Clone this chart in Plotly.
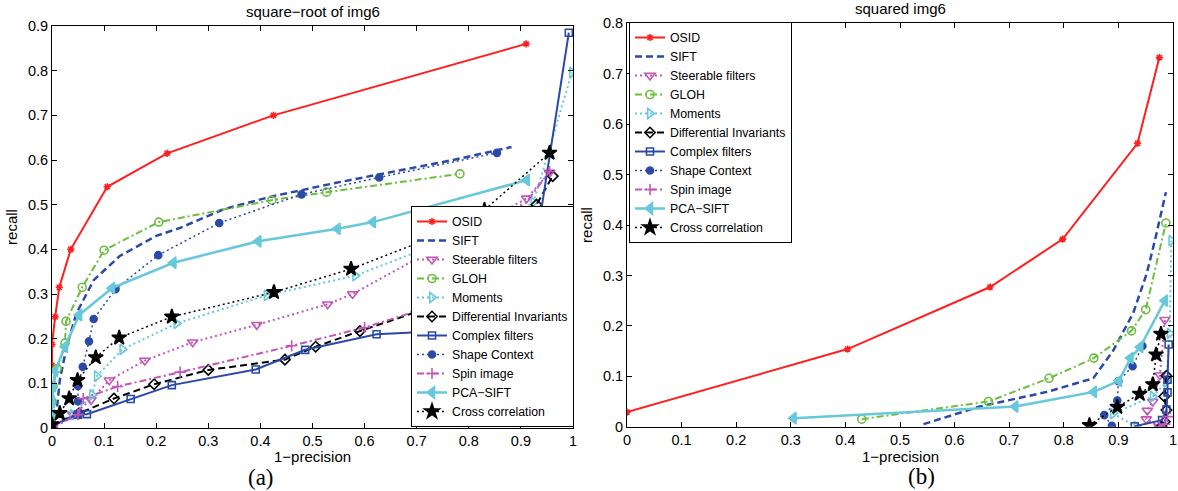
import plotly.graph_objects as go

# ---------------- data ----------------
names = ["OSID", "SIFT", "Steerable filters", "GLOH", "Moments",
         "Differential Invariants", "Complex filters", "Shape Context",
         "Spin image", "PCA−SIFT", "Cross correlation"]

# (a) square-root of img6 : x = 1-precision, y = recall
a_osid_x = [0.0, 0.0, 0.006, 0.014, 0.036, 0.106, 0.221, 0.425, 0.91]
a_osid_y = [0.14, 0.187, 0.249, 0.315, 0.40, 0.54, 0.615, 0.70, 0.86]
a_sift_x = [0.0, 0.01, 0.015, 0.028, 0.047, 0.08, 0.13, 0.2, 0.246, 0.33, 0.424, 0.55, 0.655, 0.77, 0.882]
a_sift_y = [0.0, 0.05, 0.107, 0.182, 0.257, 0.331, 0.385, 0.43, 0.448, 0.49, 0.519, 0.55, 0.574, 0.60, 0.629]
a_steer_x = [0.0, 0.04, 0.075, 0.11, 0.178, 0.27, 0.393, 0.529, 0.577, 0.911, 0.955]
a_steer_y = [0.0, 0.03, 0.063, 0.107, 0.151, 0.192, 0.231, 0.277, 0.30, 0.514, 0.572]
a_gloh_x = [0.0, 0.0, 0.0, 0.002, 0.01, 0.025, 0.027, 0.058, 0.10, 0.205, 0.422, 0.527, 0.783]
a_gloh_y = [0.0, 0.03, 0.059, 0.094, 0.133, 0.19, 0.239, 0.315, 0.398, 0.461, 0.51, 0.528, 0.569]
a_mom_x = [0.0, 0.04, 0.077, 0.086, 0.135, 0.239, 0.412, 0.582, 0.885, 0.924, 0.998]
a_mom_y = [0.005, 0.03, 0.074, 0.116, 0.176, 0.234, 0.297, 0.341, 0.477, 0.505, 0.796]
a_diff_x = [0.0, 0.052, 0.119, 0.196, 0.30, 0.447, 0.506, 0.591, 0.70, 0.85, 0.93, 0.961]
a_diff_y = [0.007, 0.033, 0.066, 0.098, 0.13, 0.153, 0.182, 0.217, 0.26, 0.36, 0.50, 0.564]
a_cplx_x = [0.0, 0.05, 0.067, 0.151, 0.23, 0.391, 0.486, 0.623, 0.80, 0.91, 0.992]
a_cplx_y = [0.005, 0.03, 0.031, 0.065, 0.096, 0.131, 0.175, 0.21, 0.22, 0.27, 0.885]
a_shape_x = [0.003, 0.05, 0.05, 0.05, 0.059, 0.071, 0.08, 0.122, 0.204, 0.321, 0.479, 0.628, 0.854]
a_shape_y = [0.005, 0.033, 0.06, 0.094, 0.137, 0.194, 0.244, 0.311, 0.387, 0.459, 0.523, 0.561, 0.616]
a_spin_x = [0.0, 0.05, 0.06, 0.126, 0.246, 0.46, 0.60, 0.75, 0.85, 0.90, 0.955]
a_spin_y = [0.0, 0.03, 0.066, 0.093, 0.125, 0.184, 0.225, 0.28, 0.38, 0.49, 0.574]
a_pca_x = [0.0, 0.0, 0.0, 0.002, 0.006, 0.025, 0.052, 0.115, 0.233, 0.396, 0.548, 0.616, 0.911]
a_pca_y = [0.005, 0.029, 0.058, 0.093, 0.128, 0.182, 0.253, 0.313, 0.37, 0.418, 0.446, 0.461, 0.555]
a_cross_x = [0.0, 0.015, 0.033, 0.049, 0.084, 0.129, 0.23, 0.426, 0.574, 0.777, 0.83, 0.955]
a_cross_y = [0.008, 0.033, 0.066, 0.107, 0.158, 0.202, 0.249, 0.304, 0.356, 0.448, 0.488, 0.616]

# (b) squared img6
b_osid_x = [0.0, 0.404, 0.665, 0.798, 0.935, 0.975]
b_osid_y = [0.029, 0.154, 0.277, 0.372, 0.562, 0.732]
b_sift_x = [0.543, 0.646, 0.769, 0.854, 0.891, 0.927, 0.952, 0.967, 0.987]
b_sift_y = [0.005, 0.04, 0.069, 0.096, 0.152, 0.225, 0.304, 0.37, 0.465]
b_steer_x = [0.975, 0.951, 0.953, 0.963, 0.976, 0.985]
b_steer_y = [0.0, 0.015, 0.032, 0.05, 0.102, 0.212]
b_gloh_x = [0.43, 0.662, 0.773, 0.855, 0.924, 0.95, 0.987]
b_gloh_y = [0.015, 0.05, 0.096, 0.136, 0.19, 0.232, 0.404]
b_mom_x = [0.933, 0.89, 0.963, 0.988, 0.994, 0.997]
b_mom_y = [0.0, 0.026, 0.06, 0.089, 0.185, 0.369]
b_diff_x = [0.979, 0.985, 0.988, 0.984, 0.988]
b_diff_y = [0.0, 0.01, 0.033, 0.06, 0.101]
b_cplx_x = [0.93, 0.98, 0.988, 0.99, 0.99, 0.992]
b_cplx_y = [0.001, 0.013, 0.034, 0.068, 0.093, 0.163]
b_shape_x = [0.888, 0.874, 0.898, 0.90, 0.926, 0.944]
b_shape_y = [0.002, 0.023, 0.052, 0.09, 0.12, 0.16]
b_spin_x = [0.975, 0.985, 0.99]
b_spin_y = [0.0, 0.005, 0.02]
b_pca_x = [0.305, 0.711, 0.855, 0.901, 0.922, 0.94, 0.985]
b_pca_y = [0.017, 0.04, 0.069, 0.091, 0.136, 0.158, 0.25]
b_cross_x = [0.847, 0.898, 0.939, 0.963, 0.969, 0.978]
b_cross_y = [0.003, 0.039, 0.065, 0.084, 0.143, 0.184]

x_ticks = [0, 0.1, 0.2, 0.3, 0.4, 0.5, 0.6, 0.7, 0.8, 0.9, 1]
ya_ticks = [0, 0.1, 0.2, 0.3, 0.4, 0.5, 0.6, 0.7, 0.8, 0.9]
yb_ticks = [0, 0.1, 0.2, 0.3, 0.4, 0.5, 0.6, 0.7, 0.8]

series_a = [(a_osid_x, a_osid_y), (a_sift_x, a_sift_y), (a_steer_x, a_steer_y),
            (a_gloh_x, a_gloh_y), (a_mom_x, a_mom_y), (a_diff_x, a_diff_y),
            (a_cplx_x, a_cplx_y), (a_shape_x, a_shape_y), (a_spin_x, a_spin_y),
            (a_pca_x, a_pca_y), (a_cross_x, a_cross_y)]
series_b = [(b_osid_x, b_osid_y), (b_sift_x, b_sift_y), (b_steer_x, b_steer_y),
            (b_gloh_x, b_gloh_y), (b_mom_x, b_mom_y), (b_diff_x, b_diff_y),
            (b_cplx_x, b_cplx_y), (b_shape_x, b_shape_y), (b_spin_x, b_spin_y),
            (b_pca_x, b_pca_y), (b_cross_x, b_cross_y)]

# ---------------- styles ----------------
RED, BLUE, MAG, GRN, CYN, BLK = "#FF1F1F", "#2B4AA8", "#C257B8", "#6CBE3F", "#66C8DA", "#000000"
styles = [
    dict(color=RED, dash="solid", width=2, symbol="asterisk-open", size=6),
    dict(color=BLUE, dash="7px,4px", width=2.5, symbol=None, size=0),
    dict(color=MAG, dash="2px,3px", width=2, symbol="triangle-down-open", size=9),
    dict(color=GRN, dash="7px,3px,2px,3px", width=2, symbol="circle-open", size=8),
    dict(color=CYN, dash="2px,3px", width=2, symbol="triangle-right-open", size=9),
    dict(color=BLK, dash="7px,4px", width=2, symbol="diamond-open", size=8),
    dict(color=BLUE, dash="solid", width=2, symbol="square-open", size=7),
    dict(color=BLUE, dash="2px,3px", width=1.5, symbol="circle", size=7),
    dict(color=MAG, dash="7px,3px,2px,3px", width=2, symbol="cross-thin-open", size=8),
    dict(color=CYN, dash="solid", width=2.5, symbol="triangle-left", size=10),
    dict(color=BLK, dash="2px,3px", width=1.5, symbol="star", size=11),
]

fig = go.Figure()


def add_series(series, xa, ya, legend):
    for name, (xs, ys), st in zip(names, series, styles):
        marker = dict(size=st["size"], color=st["color"],
                      line=dict(color=st["color"], width=1.6))
        mode = "lines"
        if st["symbol"]:
            marker["symbol"] = st["symbol"]
            mode = "lines+markers"
        fig.add_trace(go.Scatter(
            x=xs, y=ys, name=name, mode=mode, xaxis=xa, yaxis=ya,
            legend=legend, showlegend=True,
            line=dict(color=st["color"], dash=st["dash"], width=st["width"]),
            marker=marker))


add_series(series_a, "x", "y", "legend")
add_series(series_b, "x2", "y2", "legend2")

W, H = 1178, 491


def fx(px):
    return px / W


def fy(py):
    return (H - py) / H


FONT = "Liberation Sans, Arial, Helvetica, sans-serif"
SERIF = "Liberation Serif, Times New Roman, serif"

axis_common = dict(showline=True, linecolor="black", linewidth=1, mirror="ticks",
                   ticks="inside", ticklen=5, tickcolor="black", showgrid=False,
                   zeroline=False, automargin=False,
                   tickfont=dict(family=FONT, size=14.5, color="black"))

legend_common = dict(bgcolor="white", bordercolor="black", borderwidth=1,
                     tracegroupgap=0, itemwidth=30,
                     font=dict(family=FONT, size=12.3, color="black"))

fig.update_layout(
    template="none",
    width=W, height=H,
    margin=dict(l=0, r=0, t=0, b=0, autoexpand=False),
    paper_bgcolor="white", plot_bgcolor="white",
    font=dict(family=FONT, color="black"),
    hovermode=False,
    xaxis=dict(domain=[fx(52), fx(573)], range=[0, 1], anchor="y",
               tickvals=x_ticks, ticktext=[f"{v:g}" for v in x_ticks],
               **axis_common),
    yaxis=dict(domain=[fy(428), fy(26)], range=[0, 0.9], anchor="x",
               tickvals=ya_ticks, ticktext=[f"{v:g}" for v in ya_ticks],
               title=dict(text="recall", font=dict(size=15), standoff=6),
               **axis_common),
    xaxis2=dict(domain=[fx(627), fx(1173)], range=[0, 1], anchor="y2",
                tickvals=x_ticks, ticktext=[f"{v:g}" for v in x_ticks],
                **axis_common),
    yaxis2=dict(domain=[fy(426.7), fy(23.3)], range=[0, 0.8], anchor="x2",
                tickvals=yb_ticks, ticktext=[f"{v:g}" for v in yb_ticks],
                title=dict(text="recall", font=dict(size=15), standoff=6),
                **axis_common),
    legend=dict(x=fx(574), xanchor="right", y=fy(427), yanchor="bottom",
                **legend_common),
    legend2=dict(x=fx(629), xanchor="left", y=fy(22), yanchor="top",
                 **legend_common),
    annotations=[
        dict(text="square−root of img6", x=fx(313), y=fy(11), xref="paper", yref="paper",
             xanchor="center", yanchor="middle", showarrow=False,
             font=dict(size=15, family=FONT)),
        dict(text="squared img6", x=fx(900), y=fy(9), xref="paper", yref="paper",
             xanchor="center", yanchor="middle", showarrow=False,
             font=dict(size=15, family=FONT)),
        dict(text="1−precision", x=fx(312), y=fy(456.5), xref="paper", yref="paper",
             xanchor="center", yanchor="middle", showarrow=False,
             font=dict(size=15, family=FONT)),
        dict(text="1−precision", x=fx(900), y=fy(456.5), xref="paper", yref="paper",
             xanchor="center", yanchor="middle", showarrow=False,
             font=dict(size=15, family=FONT)),
        dict(text="(a)", x=fx(261), y=fy(477), xref="paper", yref="paper",
             xanchor="center", yanchor="middle", showarrow=False,
             font=dict(size=23, family=SERIF)),
        dict(text="(b)", x=fx(921), y=fy(476), xref="paper", yref="paper",
             xanchor="center", yanchor="middle", showarrow=False,
             font=dict(size=23, family=SERIF)),
    ],
)

# remove the default 8px page margin so the figure fills the window exactly
fig.write_html("out.html",
               config={"displayModeBar": False, "staticPlot": True},
               post_script="document.body.style.margin='0';document.body.style.overflow='hidden';")
